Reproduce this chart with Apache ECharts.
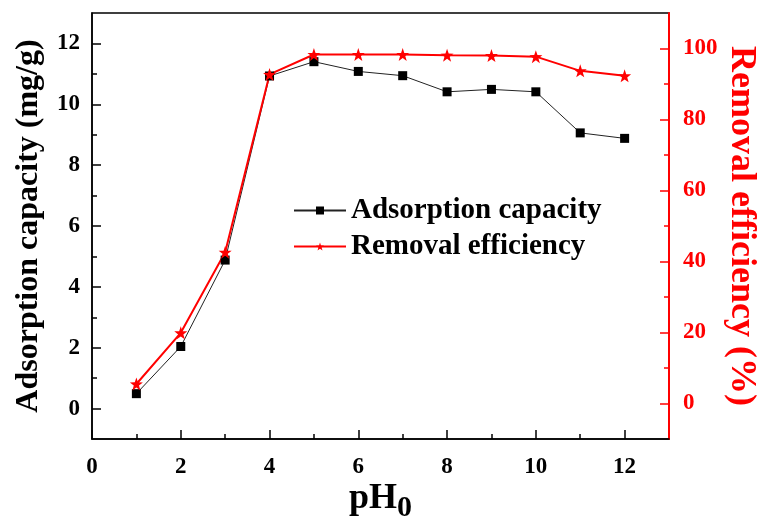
<!DOCTYPE html>
<html>
<head>
<meta charset="utf-8">
<script src="https://cdn.jsdelivr.net/npm/echarts@6/dist/echarts.min.js"></script>
<style>
    html, body { margin: 0; padding: 0; background: #fff; }
    #main { width: 759px; height: 518px; }
</style>
</head>
<body>
<div id="main"></div>
<script>
    // pH values and measured data
    var phValues = [1, 2, 3, 4, 5, 6, 7, 8, 9, 10, 11, 12];
    var adsorptionCapacity = [0.49, 2.04, 4.88, 10.93, 11.40, 11.08, 10.94, 10.41, 10.49, 10.41, 9.06, 8.88];
    var removalEfficiency = [5.5, 19.9, 42.6, 92.7, 98.3, 98.3, 98.3, 98.1, 98.0, 97.7, 93.7, 92.3];

    // tick labels
    var xTicks = [0, 2, 4, 6, 8, 10, 12];
    var xMinor = [1, 3, 5, 7, 9, 11];
    var leftTicks = [0, 2, 4, 6, 8, 10, 12];
    var leftMinor = [1, 3, 5, 7, 9, 11];
    var rightTicks = [0, 20, 40, 60, 80, 100];
    var rightMinor = [10, 30, 50, 70, 90];

    var font = 'Liberation Serif';
    var labelStyle = { fontFamily: font, fontWeight: 'bold', fontSize: 23, color: '#000' };

    function pairs(ys) {
        var out = [];
        for (var i = 0; i < phValues.length; i++) {
            out.push([phValues[i], ys[i]]);
        }
        return out;
    }

    var chart = echarts.init(document.getElementById('main'));
    chart.setOption({
        animation: false,
        grid: {
            left: 92, right: 90, top: 13, bottom: 79,
            outerBoundsMode: 'none',
            containLabel: false,
            show: true, borderColor: '#000', borderWidth: 1.5, backgroundColor: 'transparent'
        },
        legend: {
            orient: 'vertical',
            left: 288,
            top: 191,
            itemWidth: 52,
            itemHeight: 10,
            itemGap: 7,
            textStyle: { fontFamily: font, fontWeight: 'bold', fontSize: 29, color: '#000' },
            data: ['Adsorption capacity', 'Removal efficiency']
        },
        xAxis: [{
            type: 'value',
            min: 0, max: 13,
            name: '{a|pH}{b|0}',
            nameLocation: 'middle',
            nameGap: 36,
            nameMoveOverlap: false,
            nameTextStyle: {
                rich: {
                    a: { fontFamily: font, fontWeight: 'bold', fontSize: 36, color: '#000' },
                    b: { fontFamily: font, fontWeight: 'bold', fontSize: 30, color: '#000', padding: [18, 0, 0, 0] }
                }
            },
            axisLine: { onZero: false, lineStyle: { color: '#000', width: 1.5 } },
            axisTick: { inside: true, length: 9, lineStyle: { color: '#000', width: 1.5 }, customValues: xTicks },
            axisLabel: Object.assign({ margin: 17, customValues: xTicks }, labelStyle),
            splitLine: { show: false }
        }, {
            type: 'value',
            min: 0, max: 13,
            position: 'bottom',
            axisLine: { show: false, onZero: false },
            axisTick: { inside: true, length: 5, lineStyle: { color: '#000', width: 1.5 }, customValues: xMinor },
            axisLabel: { show: false },
            splitLine: { show: false }
        }],
        yAxis: [{
            type: 'value',
            position: 'left',
            min: -1, max: 13,
            name: 'Adsorption capacity (mg/g)',
            nameLocation: 'middle',
            nameGap: 47,
            nameMoveOverlap: false,
            nameTextStyle: { fontFamily: font, fontWeight: 'bold', fontSize: 32, color: '#000' },
            axisLine: { show: true, onZero: false, lineStyle: { color: '#000', width: 1.5 } },
            axisTick: { inside: true, length: 9, lineStyle: { color: '#000', width: 1.5 }, customValues: leftTicks },
            axisLabel: Object.assign({ margin: 12, customValues: leftTicks }, labelStyle),
            splitLine: { show: false }
        }, {
            type: 'value',
            position: 'right',
            min: -10, max: 110,
            name: 'Removal efficiency (%)',
            nameLocation: 'middle',
            nameGap: 54,
            nameMoveOverlap: false,
            nameRotate: -90,
            nameTextStyle: { fontFamily: font, fontWeight: 'bold', fontSize: 36, color: '#f00' },
            axisLine: { show: true, onZero: false, lineStyle: { color: '#f00', width: 2 } },
            axisTick: { inside: true, length: 9, lineStyle: { color: '#f00', width: 1.5 }, customValues: rightTicks },
            axisLabel: Object.assign({}, labelStyle, { color: '#f00', margin: 14, customValues: rightTicks }),
            splitLine: { show: false }
        }, {
            type: 'value',
            position: 'left',
            min: -1, max: 13,
            axisLine: { show: false, onZero: false },
            axisTick: { inside: true, length: 5, lineStyle: { color: '#000', width: 1.5 }, customValues: leftMinor },
            axisLabel: { show: false },
            splitLine: { show: false }
        }, {
            type: 'value',
            position: 'right',
            min: -10, max: 110,
            axisLine: { show: false, onZero: false },
            axisTick: { inside: true, length: 5, lineStyle: { color: '#f00', width: 1.5 }, customValues: rightMinor },
            axisLabel: { show: false },
            splitLine: { show: false }
        }],
        series: [{
            name: 'Adsorption capacity',
            type: 'line',
            xAxisIndex: 0,
            yAxisIndex: 0,
            data: pairs(adsorptionCapacity),
            symbol: 'rect',
            symbolSize: 9,
            lineStyle: { color: '#222', width: 1 },
            itemStyle: { color: '#000' }
        }, {
            name: 'Removal efficiency',
            type: 'line',
            xAxisIndex: 0,
            yAxisIndex: 1,
            data: pairs(removalEfficiency),
            symbol: 'path://M0,-10 L2.35,-3.24 L9.51,-3.09 L3.8,1.24 L5.88,8.09 L0,4 L-5.88,8.09 L-3.8,1.24 L-9.51,-3.09 L-2.35,-3.24 Z',
            symbolSize: 13,
            lineStyle: { color: '#f00', width: 2 },
            itemStyle: { color: '#f00' }
        }]
    });
</script>
</body>
</html>
